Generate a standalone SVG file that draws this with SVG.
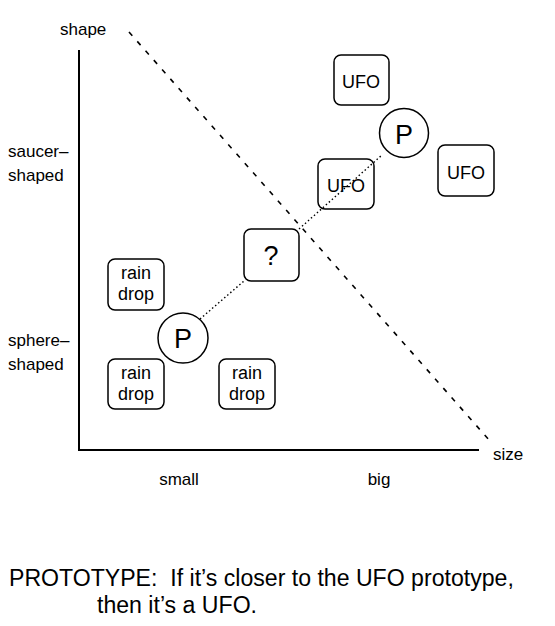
<svg xmlns="http://www.w3.org/2000/svg" width="555" height="626" viewBox="0 0 555 626">
<style>
text{font-family:"Liberation Sans",Arial,sans-serif;fill:#000}
.lbl{font-size:17px}
.box{fill:#fff;stroke:#000;stroke-width:1.5}
.bt{font-size:18px;text-anchor:middle}
.big{font-size:27px;text-anchor:middle}
.axis{stroke:#000;stroke-width:2;fill:none}
.dash{stroke:#000;stroke-width:1.6;stroke-dasharray:5 7.5;fill:none}
.dot{stroke:#000;stroke-width:1.4;stroke-dasharray:1.5 2.5;fill:none}
</style>
<rect width="555" height="626" fill="#fff"/>
<g id="axes">
<path class="axis" d="M79,50 V450 H479"/>
<text class="lbl" x="60" y="35">shape</text>
<text class="lbl" x="493" y="460">size</text>
<text class="lbl" x="8" y="157">saucer–</text>
<text class="lbl" x="8" y="181">shaped</text>
<text class="lbl" x="8" y="346">sphere–</text>
<text class="lbl" x="8" y="370">shaped</text>
<text class="lbl" x="179" y="485" text-anchor="middle">small</text>
<text class="lbl" x="379" y="485" text-anchor="middle">big</text>
</g>
<g id="connectors">
<path class="dash" d="M129,32 L490,441"/>
<path class="dot" d="M200,319 L244,281"/>
</g>
<g id="ufo1"><rect class="box" x="334" y="55" width="55" height="50" rx="7"/><text class="bt" x="361" y="88">UFO</text></g>
<g id="ufo2"><rect class="box" x="438" y="145" width="56" height="51" rx="7"/><text class="bt" x="466" y="179">UFO</text></g>
<g id="ufo3"><rect class="box" x="318" y="159" width="56" height="50" rx="7"/><text class="bt" x="346" y="192">UFO</text></g>
<g id="p-ufo"><circle class="box" cx="404" cy="133" r="24.5"/><text class="big" x="404" y="144">P</text></g>
<g id="question"><rect class="box" x="244" y="229" width="55" height="52" rx="7"/><text class="big" x="271" y="265">?</text></g>
<g id="rain1"><rect class="box" x="108" y="259" width="56" height="51" rx="7"/><text class="bt" x="136" y="279">rain</text><text class="bt" x="136" y="300">drop</text></g>
<g id="p-rain"><circle class="box" cx="183" cy="338" r="25"/><text class="big" x="183" y="348">P</text></g>
<g id="rain2"><rect class="box" x="108" y="359" width="56" height="50" rx="7"/><text class="bt" x="136" y="379">rain</text><text class="bt" x="136" y="400">drop</text></g>
<g id="rain3"><rect class="box" x="219" y="359" width="56" height="50" rx="7"/><text class="bt" x="247" y="379">rain</text><text class="bt" x="247" y="400">drop</text></g>
<g id="connectors-top">
<path class="dot" d="M299,229 L382,155"/>
</g>
<g id="caption">
<text x="9" y="586" font-size="23.1" xml:space="preserve">PROTOTYPE:  If it’s closer to the UFO prototype,</text>
<text x="97" y="613" font-size="23.1">then it’s a UFO.</text>
</g>
</svg>
